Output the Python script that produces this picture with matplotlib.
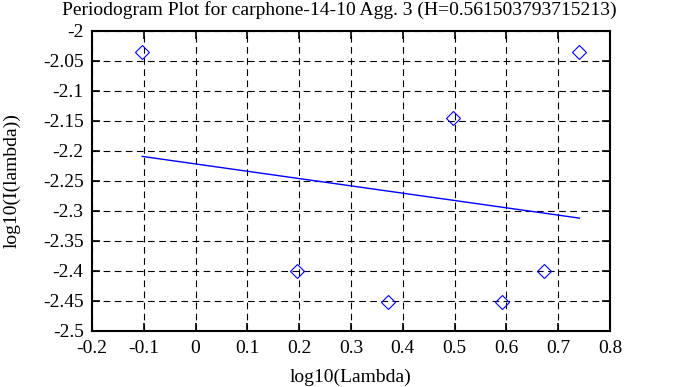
import matplotlib
matplotlib.use('Agg')
import matplotlib.pyplot as plt

# periodogram points (log10 lambda, log10 I(lambda))
log_lambda = [-0.103, 0.195, 0.372, 0.496, 0.592, 0.672, 0.741]
log_I = [-2.035, -2.400, -2.452, -2.145, -2.452, -2.400, -2.035]

# least squares fit line end points
fit_x = [-0.103, 0.741]
fit_y = [-2.2097, -2.3125]

x_ticks = [-0.2, -0.1, 0, 0.1, 0.2, 0.3, 0.4, 0.5, 0.6, 0.7, 0.8]
x_labels = ['-0.2', '-0.1', '0', '0.1', '0.2', '0.3', '0.4', '0.5', '0.6', '0.7', '0.8']
y_ticks = [-2.5, -2.45, -2.4, -2.35, -2.3, -2.25, -2.2, -2.15, -2.1, -2.05, -2]
y_labels = ['-2.5', '-2.45', '-2.4', '-2.35', '-2.3', '-2.25', '-2.2', '-2.15', '-2.1', '-2.05', '-2']

plt.rcParams['font.family'] = ['Liberation Serif', 'DejaVu Serif']

fig = plt.figure(figsize=(6.78, 3.87), dpi=100)
ax = fig.add_axes([92 / 678, 1 - 330.7 / 387, (610 - 92) / 678, (330.7 - 30.5) / 387])

ax.plot(log_lambda, log_I, linestyle='none', marker='D', markersize=7.5,
        markerfacecolor='none', markeredgecolor='blue', markeredgewidth=0.8, zorder=3)
ax.plot(fit_x, fit_y, color='blue', linewidth=1.0, zorder=3)

ax.set_xlim(-0.2, 0.8)
ax.set_ylim(-2.5, -2.0)
ax.set_xticks(x_ticks)
ax.set_xticklabels(x_labels)
ax.set_yticks(y_ticks)
ax.set_yticklabels(y_labels)

ax.grid(True, color='black', linestyle=(0, (6, 4)), linewidth=0.8)
ax.tick_params(direction='in', length=6, width=1.2, top=True, right=True,
               labelsize=14, colors='black')
ax.tick_params(axis='x', pad=7)
ax.tick_params(axis='y', pad=6)
for s in ax.spines.values():
    s.set_linewidth(1.5)

# title centred on the figure, gnuplot style
fig.text(0.5, 1 - 10 / 387, 'Periodogram Plot for carphone-14-10 Agg. 3 (H=0.561503793715213)',
         fontsize=14, ha='center', va='center')
ax.set_xlabel('log10(Lambda)', fontsize=14, labelpad=8)
ax.set_ylabel('log10(I(lambda))', fontsize=14)
ax.yaxis.label.set_va('center')
ax.yaxis.set_label_coords((12 - 92) / 518, 0.5)

fig.savefig('out.png', dpi=100)
